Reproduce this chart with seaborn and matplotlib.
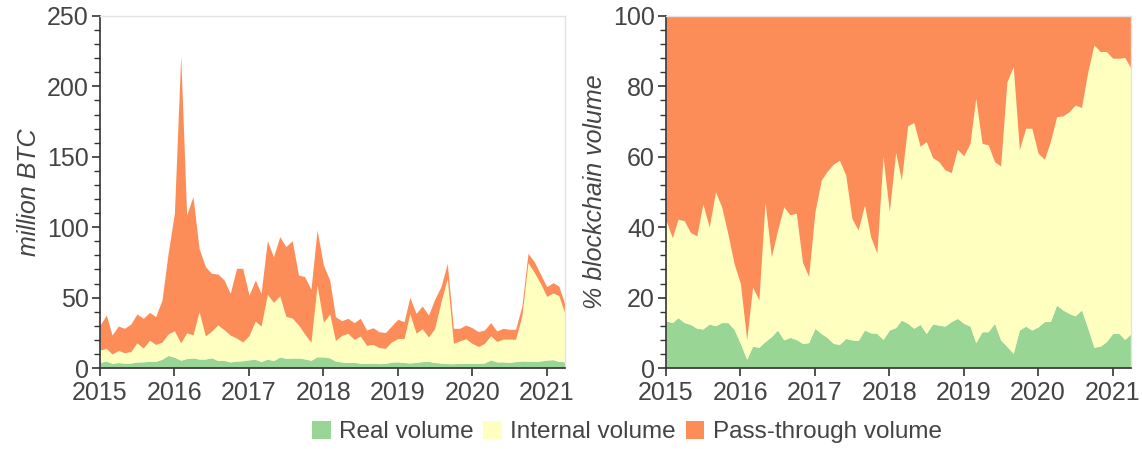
import pandas as pd
import seaborn as sns
import matplotlib.pyplot as plt
import matplotlib.dates as mdates
from matplotlib.patches import Patch
from matplotlib.ticker import MultipleLocator

# monthly data, Jan 2015 - Apr 2021
months = pd.date_range("2015-01-01", "2021-04-01", freq="MS")

total_btc = [30.5, 37.6, 23.4, 29.8, 28.2, 31.2, 38.4, 35.3, 39.5, 36.5,
             48.3, 81.4, 110.0, 222.0, 108.7, 121.7, 85.0, 72.0, 67.2, 66.8,
             62.5, 53.0, 70.8, 70.8, 51.8, 62.5, 53.0, 90.4, 79.0, 93.3,
             86.2, 90.4, 66.0, 64.9, 55.9, 98.0, 73.2, 62.5, 36.5, 33.6,
             35.3, 32.2, 35.3, 27.0, 28.6, 25.8, 25.1, 29.8, 34.6, 32.9,
             50.2, 38.8, 44.0, 37.6, 48.8, 57.8, 74.3, 28.2, 28.2, 30.5,
             28.6, 25.8, 27.0, 32.2, 26.3, 28.2, 27.5, 27.5, 44.0, 81.4,
             75.5, 66.8, 57.8, 60.6, 58.2, 45.0]

real_pct = [13.4, 12.9, 14.3, 12.9, 12.4, 11.3, 11.1, 12.5, 12.0, 12.9,
            12.9, 11.0, 7.0, 2.5, 6.2, 5.9, 7.5, 8.9, 10.8, 8.0,
            8.7, 8.1, 7.0, 7.2, 11.3, 9.8, 8.7, 7.0, 6.7, 8.4,
            8.0, 7.8, 10.8, 10.0, 9.8, 8.1, 10.8, 11.5, 13.6, 12.7,
            11.3, 12.4, 9.8, 12.5, 12.2, 11.9, 13.2, 14.1, 12.7, 11.9,
            7.2, 10.3, 10.3, 12.7, 8.0, 6.1, 4.2, 10.8, 11.9, 10.8,
            11.7, 13.2, 13.2, 17.9, 16.5, 15.5, 14.8, 16.5, 11.3, 5.9,
            6.2, 7.5, 9.8, 9.8, 8.1, 9.8]

internal_pct = [28.6, 24.1, 28.0, 28.9, 26.1, 26.2, 35.5, 27.5, 38.0, 32.9,
                25.1, 18.7, 17.0, 5.5, 16.8, 13.4, 39.5, 22.7, 28.2, 37.8,
                34.8, 35.9, 23.0, 18.8, 33.1, 43.6, 47.1, 50.9, 52.3, 46.4,
                34.5, 31.4, 35.5, 27.3, 22.8, 51.9, 33.6, 49.7, 39.8, 56.1,
                58.4, 50.6, 54.5, 47.3, 46.4, 44.4, 42.3, 48.0, 47.6, 51.9,
                69.4, 53.5, 53.1, 45.9, 49.4, 75.2, 81.4, 51.2, 56.2, 57.3,
                49.3, 46.1, 51.1, 53.5, 55.1, 57.3, 59.9, 57.5, 72.9, 85.9,
                83.7, 82.4, 78.2, 78.2, 80.1, 75.3]

labels = ["Real volume", "Internal volume", "Pass-through volume"]

df = pd.DataFrame({"total": total_btc, "real": real_pct, "internal": internal_pct}, index=months)
df["pass"] = 100 - df["real"] - df["internal"]

sns.set_theme(style="ticks")
plt.rcParams["font.family"] = ["Liberation Sans", "DejaVu Sans"]
colors = sns.color_palette(["#99d594", "#ffffbf", "#fc8d59"])
text_col = "#444444"

fig, axes = plt.subplots(1, 2, figsize=(11.42, 4.49), dpi=100)
fig.subplots_adjust(left=0.0876, right=0.9904, bottom=0.1804, top=0.9644, wspace=0.217)

parts = ["real", "internal", "pass"]
abs_vals = [df["total"] * df[p] / 100 for p in parts]
pct_vals = [df[p] for p in parts]

axes[0].stackplot(df.index, *abs_vals, colors=colors, linewidth=0)
axes[1].stackplot(df.index, *pct_vals, colors=colors, linewidth=0)

axes[0].set_ylim(0, 250)
axes[0].yaxis.set_major_locator(MultipleLocator(50))
axes[0].yaxis.set_minor_locator(MultipleLocator(10))
axes[0].set_ylabel("million BTC", fontsize=18, style="italic", color=text_col, labelpad=4)

axes[1].set_ylim(0, 100)
axes[1].yaxis.set_major_locator(MultipleLocator(20))
axes[1].yaxis.set_minor_locator(MultipleLocator(4))
axes[1].set_ylabel("% blockchain volume", fontsize=18, style="italic", color=text_col, labelpad=4)

for ax in axes:
    ax.set_xlim(months[0], months[-1])
    ax.xaxis.set_major_locator(mdates.YearLocator())
    ax.xaxis.set_major_formatter(mdates.DateFormatter("%Y"))
    ax.tick_params(axis="both", which="major", labelsize=18, labelcolor=text_col,
                   color="#333333", length=6, width=1.2)
    ax.tick_params(axis="y", which="major", pad=2)
    ax.tick_params(axis="x", which="major", pad=3.5)
    ax.tick_params(axis="y", which="minor", color="#333333", length=4, width=1)
    for side in ["top", "right"]:
        ax.spines[side].set_color("#e3e3e3")
        ax.spines[side].set_linewidth(1)
    for side in ["left", "bottom"]:
        ax.spines[side].set_color("#333333")
        ax.spines[side].set_linewidth(1.2)
    ax.set_xlabel("")

handles = [Patch(facecolor=c, edgecolor="none") for c in colors]
fig.legend(handles, labels, loc="center", ncol=3, frameon=False,
           bbox_to_anchor=(0.549, 0.038), fontsize=17.5, labelcolor=text_col,
           handlelength=0.76, handleheight=0.76, handletextpad=0.35, columnspacing=0.4)

fig.savefig("out.png", dpi=100)
